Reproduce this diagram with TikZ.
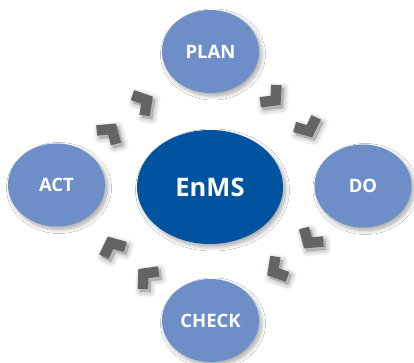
\documentclass[tikz,border=0pt]{standalone}
\usepackage{fontspec}
\setmainfont{Open Sans}
\usetikzlibrary{shapes.geometric,shadows.blur}
\definecolor{lightblue}{RGB}{109,142,199}
\definecolor{darkblue}{RGB}{0,83,159}
\definecolor{chevgray}{RGB}{99,100,102}
\tikzset{
  softshadow/.style={blur shadow={shadow xshift=2.5pt, shadow yshift=-3pt, shadow blur radius=4pt, shadow blur steps=10, shadow opacity=35}},
  phase/.style={ellipse, fill=lightblue, text=white, inner sep=0pt,
    minimum width=97pt, minimum height=83pt,
    font=\bfseries\fontsize{18.5}{20}\selectfont, softshadow},
  core/.style={ellipse, fill=darkblue, text=white, inner sep=0pt,
    minimum width=146pt, minimum height=114pt,
    font=\bfseries\fontsize{25.5}{28}\selectfont, softshadow},
  chev/.style={fill=chevgray},
  chevshade/.style={fill=black, draw=black, fill opacity=0.03, draw opacity=0.03, line join=round}
}
\def\chevlist{144/261/31, 110/231/55, 273/265/-43, 308/235/-66,
              310/123/-125, 276/93/-149, 146/87/138, 112/117/114.5}
\def\cs{1.1}
\begin{document}
\begin{tikzpicture}[x=1pt,y=1pt]
  \useasboundingbox (0,0) rectangle (414,363);
  \fill[white] (0,0) rectangle (414,363);
  % chevron shadows (soft, lower right)
  \foreach \cx/\cy/\a in \chevlist {
    \foreach \w in {0.5,2.5,4.5,6.5,8.5,10.5} {
      \filldraw[chevshade, line width=\w pt, shift={(\cx+2.5,\cy-3)}]
        ({\a}:{9.4*\cs}) -- ({\a+98.9}:{13.96*\cs}) -- ({\a+140.9}:{12.18*\cs})
        -- ({\a+180}:{3.0*\cs}) -- ({\a+219.1}:{12.18*\cs}) -- ({\a+261.1}:{13.96*\cs}) -- cycle;
    }
  }
  % chevrons
  \foreach \cx/\cy/\a in \chevlist {
    \fill[chev, shift={(\cx,\cy)}]
      ({\a}:{9.4*\cs}) -- ({\a+98.9}:{13.96*\cs}) -- ({\a+140.9}:{12.18*\cs})
      -- ({\a+180}:{3.0*\cs}) -- ({\a+219.1}:{12.18*\cs}) -- ({\a+261.1}:{13.96*\cs}) -- cycle;
  }
  % ellipses
  \node[core]  (enms)  at (210,176)   {EnMS};
  \node[phase] (plan)  at (210.5,311.5) {PLAN};
  \node[phase] (do)    at (363,177)   {DO};
  \node[phase] (check) at (210.5,42.5) {CHECK};
  \node[phase] (act)   at (56.5,178)  {ACT};
\end{tikzpicture}
\end{document}
